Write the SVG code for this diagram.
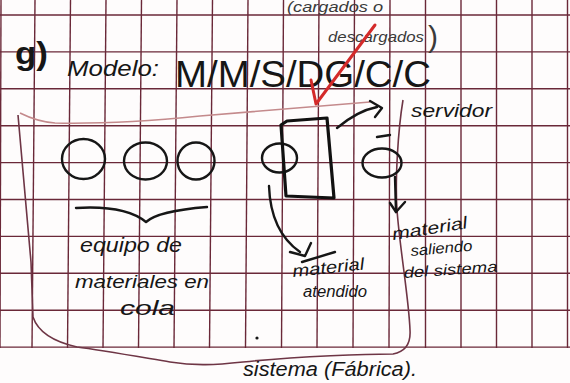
<svg xmlns="http://www.w3.org/2000/svg" width="570" height="383" viewBox="0 0 570 383">
<style>
.grid line{stroke:#6a2838;stroke-width:1.4;}
.ink{fill:none;stroke:#161616;stroke-width:2.4;stroke-linecap:round;stroke-linejoin:round;}
.thick{fill:none;stroke:#111;stroke-width:3.2;stroke-linejoin:round;}
.hw{font-family:"Liberation Sans","DejaVu Sans",sans-serif;fill:#161616;font-style:italic;}
.pen{font-family:"Liberation Sans","DejaVu Sans",sans-serif;fill:#161616;}
.pencil{font-family:"Liberation Sans","DejaVu Sans",sans-serif;fill:#3a3a3a;font-style:italic;}
</style>
<rect width="570" height="383" fill="#fefcfc"/>
<g class="grid" id="grid">
<line x1="1" y1="0" x2="0" y2="348"/>
<line x1="35" y1="0" x2="32" y2="348"/>
<line x1="70.5" y1="0" x2="67.5" y2="348"/>
<line x1="106" y1="0" x2="103" y2="348"/>
<line x1="141.5" y1="0" x2="138.5" y2="348"/>
<line x1="177" y1="0" x2="174" y2="348"/>
<line x1="212.5" y1="0" x2="209.5" y2="348"/>
<line x1="248" y1="0" x2="245.5" y2="348"/>
<line x1="283.5" y1="0" x2="281.5" y2="348"/>
<line x1="319" y1="0" x2="317" y2="348"/>
<line x1="354.5" y1="0" x2="353" y2="348"/>
<line x1="390" y1="0" x2="389" y2="348"/>
<line x1="425.5" y1="0" x2="425.5" y2="348"/>
<line x1="461" y1="0" x2="461" y2="348"/>
<line x1="496.5" y1="0" x2="496.5" y2="348"/>
<line x1="532" y1="0" x2="532" y2="348"/>
<line x1="567.5" y1="0" x2="567.5" y2="348"/>
<line x1="0" y1="15" x2="570" y2="15"/>
<line x1="0" y1="51.9" x2="570" y2="51.9"/>
<line x1="0" y1="88.8" x2="570" y2="88.8"/>
<line x1="0" y1="125.7" x2="570" y2="125.7"/>
<line x1="0" y1="162.6" x2="570" y2="162.6"/>
<line x1="0" y1="199.5" x2="570" y2="199.5"/>
<line x1="0" y1="236.4" x2="570" y2="236.4"/>
<line x1="0" y1="273.3" x2="570" y2="273.3"/>
<line x1="0" y1="310.2" x2="570" y2="310.2"/>
<line x1="0" y1="347.1" x2="570" y2="347.1"/>
</g>

<g id="title">
<text class="pen" x="15" y="64" font-size="31" font-weight="bold" textLength="33" lengthAdjust="spacingAndGlyphs">g)</text>
<text class="hw" x="67" y="76" font-size="22" textLength="92" lengthAdjust="spacingAndGlyphs">Modelo:</text>
<text class="pen" x="175" y="87" font-size="37" textLength="256" lengthAdjust="spacingAndGlyphs">M/M/S/DG/C/C</text>
<text class="pencil" x="287" y="12" font-size="14" textLength="96" lengthAdjust="spacingAndGlyphs">(cargados o</text>
<text class="pencil" x="328" y="42" font-size="14"><tspan textLength="96" lengthAdjust="spacingAndGlyphs">descargados</tspan><tspan x="428" y="47" font-size="30" font-style="normal">)</tspan></text>
<path d="M311,80 L316,104 L375,25" fill="none" stroke="#d42a2a" stroke-width="3" stroke-linecap="round" stroke-linejoin="round"/>
</g>

<g id="system-boundary">
<path d="M20,113 C30,118 40,122 55,123 C100,124 160,120 200,116 C260,111 320,106 370,102" fill="none" stroke="#c48a8c" stroke-width="1.6"/>
<path d="M403,100 C398,130 395,180 397,210 C400,250 409,300 410,330 C411,345 404,352 393,354 C370,354 300,356 243,362 C215,365 195,366 170,362 C140,357 100,350 77,347 C55,342 38,332 33,317 L31,262 L18,115" fill="none" stroke="#6e3545" stroke-width="1.6"/>
<text class="hw" x="243" y="376" font-size="20" textLength="174" lengthAdjust="spacingAndGlyphs">sistema (Fábrica).</text>
<circle cx="257" cy="338" r="1.6" fill="#161616"/>
</g>

<g id="queue">
<ellipse class="ink" cx="83.5" cy="159" rx="21.5" ry="20"/>
<ellipse class="ink" cx="145.5" cy="161" rx="21.5" ry="18.5"/>
<ellipse class="ink" cx="196" cy="161" rx="18.5" ry="18.5"/>
<path class="ink" d="M76,208 Q125,205 146,222 Q158,211 207,207"/>
<text class="hw" x="80" y="252" font-size="20" textLength="102" lengthAdjust="spacingAndGlyphs">equipo de</text>
<text class="hw" x="75" y="288" font-size="19" textLength="134" lengthAdjust="spacingAndGlyphs">materiales en</text>
<text class="hw" x="120" y="315" font-size="21" textLength="55" lengthAdjust="spacingAndGlyphs">cola</text>
</g>

<g id="server">
<ellipse class="ink" cx="279.5" cy="158" rx="17.5" ry="14.5"/>
<polygon class="thick" points="281,125 287,121 327,118 334,198 286,196"/>
<text class="hw" x="411" y="117" font-size="19" textLength="81" lengthAdjust="spacingAndGlyphs">servidor</text>
</g>

<g id="departing">
<ellipse class="ink" cx="382" cy="163" rx="19.5" ry="14.5"/>
<path class="ink" d="M377,137 L390,135"/>
<text class="hw" transform="rotate(-9 393 240)" x="393" y="240" font-size="17" textLength="76" lengthAdjust="spacingAndGlyphs">material</text>
<text class="hw" transform="rotate(-5 411 256)" x="411" y="256" font-size="15" textLength="62" lengthAdjust="spacingAndGlyphs">saliendo</text>
<text class="hw" transform="rotate(-4 404 278)" x="404" y="278" font-size="15" textLength="94" lengthAdjust="spacingAndGlyphs">del sistema</text>
</g>

<g id="served">
<text class="hw" transform="rotate(-6 293 277)" x="293" y="277" font-size="17" textLength="72" lengthAdjust="spacingAndGlyphs">material</text>
<text class="hw" x="303" y="297" font-size="16" textLength="64" lengthAdjust="spacingAndGlyphs">atendido</text>
</g>

<g id="connectors">
<path class="ink" d="M337,128 C350,117 362,110 377,107"/>
<path class="ink" d="M370,101 L382,108 L375,117"/>
<path class="ink" d="M269,186 C270,215 280,238 300,252"/>
<path class="ink" d="M290,252 L305,256 L311,243"/>
<path class="ink" d="M302,262 L335,252"/>
<path class="ink" d="M395,177 L396,212"/>
<path class="ink" d="M390,203 L396,212 L405,202"/>
</g>
</svg>
